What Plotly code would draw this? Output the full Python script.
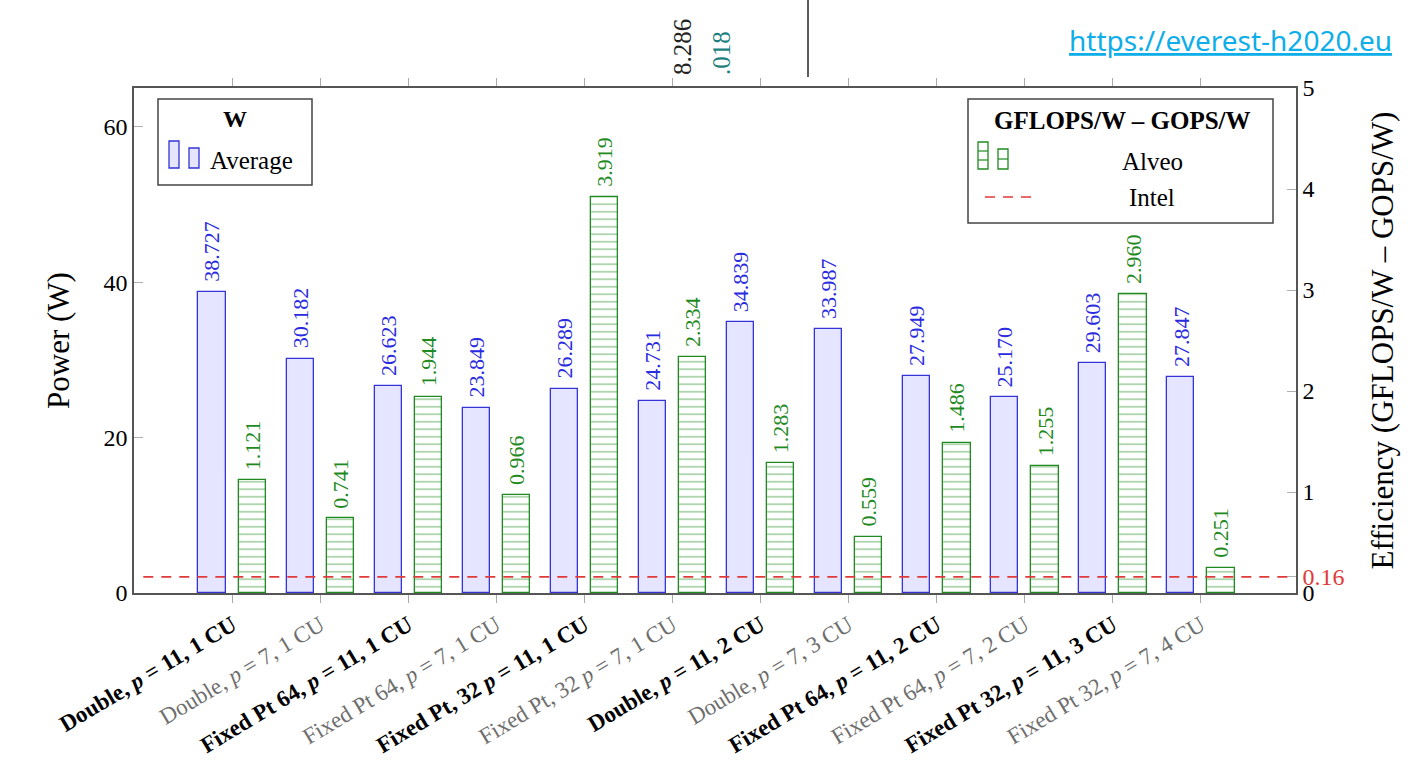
import plotly.graph_objects as go

# ---- data -------------------------------------------------------------
categories = [
    "Double, p = 11, 1 CU",
    "Double, p = 7, 1 CU",
    "Fixed Pt 64, p = 11, 1 CU",
    "Fixed Pt 64, p = 7, 1 CU",
    "Fixed Pt, 32 p = 11, 1 CU",
    "Fixed Pt, 32 p = 7, 1 CU",
    "Double, p = 11, 2 CU",
    "Double, p = 7, 3 CU",
    "Fixed Pt 64, p = 11, 2 CU",
    "Fixed Pt 64, p = 7, 2 CU",
    "Fixed Pt 32, p = 11, 3 CU",
    "Fixed Pt 32, p = 7, 4 CU",
]
power_avg = [38.727, 30.182, 26.623, 23.849, 26.289, 24.731,
             34.839, 33.987, 27.949, 25.170, 29.603, 27.847]
alveo_eff = [1.121, 0.741, 1.944, 0.966, 3.919, 2.334,
             1.283, 0.559, 1.486, 1.255, 2.960, 0.251]
intel_eff = 0.16

# ---- geometry of the plotting area (pixels) ---------------------------
W, H = 1416, 763
L, R, T, B = 134, 1296, 88, 593


def px_x(px):
    return (px - L) / (R - L)


def px_y(py):
    return (B - py) / (B - T)


SERIF = "Liberation Serif"
BLUE_EDGE = "#3434d8"
BLUE_FILL = "#e5e5ff"
BLUE_TEXT = "#2a2ae0"
GREEN = "#1f8a1f"
RED = "#e03a3a"

BAR_W = 0.31
GAP = 0.074
xs = list(range(len(categories)))


def tick_label(i, name):
    txt = name.replace("p =", "<i>p</i> =")
    if i % 2 == 0:
        return "<b>" + txt + "</b>"
    return "<span style='color:#6e6e6e'>" + txt + "</span>"


def paper_text(px, py, text, size, color="black", family=SERIF,
               xanchor="center", yanchor="middle", angle=0):
    return dict(x=px_x(px), y=px_y(py), xref="paper", yref="paper",
                text=text, showarrow=False, textangle=angle,
                xanchor=xanchor, yanchor=yanchor,
                font=dict(family=family, size=size, color=color))


fig = go.Figure()

fig.add_trace(go.Bar(
    x=xs, y=power_avg, name="Average",
    offset=-GAP - BAR_W, width=BAR_W,
    marker=dict(color=BLUE_FILL, line=dict(color=BLUE_EDGE, width=1.3)),
    yaxis="y", showlegend=False,
))
fig.add_trace(go.Bar(
    x=xs, y=alveo_eff, name="Alveo",
    offset=GAP, width=BAR_W,
    marker=dict(color="white", line=dict(color=GREEN, width=1.3),
                pattern=dict(shape="-", fgcolor=GREEN, bgcolor="white",
                             size=7.5, solidity=0.18)),
    yaxis="y2", showlegend=False,
))

# Intel reference efficiency
fig.add_shape(type="line", xref="paper", x0=0.008, x1=0.995,
              yref="y2", y0=intel_eff, y1=intel_eff,
              line=dict(color=RED, width=1.6, dash="10px,8px"))

annotations = []
# value labels above bars
for i, v in enumerate(power_avg):
    annotations.append(dict(
        x=i - GAP - BAR_W / 2, y=v, xref="x", yref="y",
        text=f"{v:.3f}", textangle=-90, showarrow=False,
        xanchor="center", yanchor="bottom", yshift=8,
        font=dict(family=SERIF, size=22, color=BLUE_TEXT)))
for i, v in enumerate(alveo_eff):
    annotations.append(dict(
        x=i + GAP + BAR_W / 2, y=v, xref="x", yref="y2",
        text=f"{v:.3f}", textangle=-90, showarrow=False,
        xanchor="center", yanchor="bottom", yshift=8,
        font=dict(family=SERIF, size=22, color=GREEN)))

# legend texts
annotations += [
    paper_text(235, 119, "<b>W</b>", 24),
    paper_text(208, 160, "Average", 25, xanchor="left"),
    paper_text(1122, 121, "<b>GFLOPS/W – GOPS/W</b>", 25),
    paper_text(1152, 161, "Alveo", 25),
    paper_text(1152, 197, "Intel", 25),
]

# web address and the strip above the chart
annotations += [
    paper_text(1394, 40, "<u>https://everest-h2020.eu</u>", 28,
               color="#10aee8", family="Noto Sans", xanchor="right"),
    paper_text(683, 77, "8.286", 25, color="#222222",
               yanchor="bottom", angle=-90),
    paper_text(722, 77, ".018", 25, color="#1e7f7f",
               yanchor="bottom", angle=-90),
]

shapes = [
    # legend frames
    dict(type="rect", xref="paper", yref="paper",
         x0=px_x(158), x1=px_x(312), y0=px_y(99), y1=px_y(185),
         line=dict(color="#444444", width=1.5), fillcolor="white", layer="above"),
    dict(type="rect", xref="paper", yref="paper",
         x0=px_x(968), x1=px_x(1273), y0=px_y(99), y1=px_y(223),
         line=dict(color="#444444", width=1.5), fillcolor="white", layer="above"),
    # average symbol
    dict(type="rect", xref="paper", yref="paper",
         x0=px_x(169), x1=px_x(179), y0=px_y(141), y1=px_y(168),
         line=dict(color=BLUE_EDGE, width=1.3), fillcolor=BLUE_FILL, layer="above"),
    dict(type="rect", xref="paper", yref="paper",
         x0=px_x(189), x1=px_x(199), y0=px_y(148), y1=px_y(168),
         line=dict(color=BLUE_EDGE, width=1.3), fillcolor=BLUE_FILL, layer="above"),
    # alveo symbol
    dict(type="rect", xref="paper", yref="paper",
         x0=px_x(978), x1=px_x(988), y0=px_y(142), y1=px_y(169),
         line=dict(color=GREEN, width=1.3), fillcolor="white", layer="above"),
    dict(type="line", xref="paper", yref="paper",
         x0=px_x(978), x1=px_x(988), y0=px_y(151), y1=px_y(151),
         line=dict(color=GREEN, width=1.2), layer="above"),
    dict(type="line", xref="paper", yref="paper",
         x0=px_x(978), x1=px_x(988), y0=px_y(160), y1=px_y(160),
         line=dict(color=GREEN, width=1.2), layer="above"),
    dict(type="rect", xref="paper", yref="paper",
         x0=px_x(998), x1=px_x(1008), y0=px_y(149), y1=px_y(169),
         line=dict(color=GREEN, width=1.3), fillcolor="white", layer="above"),
    dict(type="line", xref="paper", yref="paper",
         x0=px_x(998), x1=px_x(1008), y0=px_y(159), y1=px_y(159),
         line=dict(color=GREEN, width=1.2), layer="above"),
    # intel symbol
    dict(type="line", xref="paper", yref="paper",
         x0=px_x(985), x1=px_x(1034), y0=px_y(197), y1=px_y(197),
         line=dict(color=RED, width=1.6, dash="10px,8px"), layer="above"),
    # vertical rule in the top strip
    dict(type="line", xref="paper", yref="paper",
         x0=px_x(808), x1=px_x(808), y0=px_y(0), y1=px_y(77),
         line=dict(color="#333333", width=1.6)),
]
for s in shapes:
    fig.add_shape(**s)

fig.update_layout(
    width=W, height=H,
    margin=dict(l=L, r=W - R, t=T, b=H - B, pad=0, autoexpand=False),
    paper_bgcolor="white", plot_bgcolor="white",
    barmode="overlay", bargap=0,
    showlegend=False,
    annotations=annotations,
    font=dict(family=SERIF, color="black"),
    xaxis=dict(
        range=[-1.116, 12.08], automargin=False,
        tickmode="array", tickvals=xs,
        ticktext=[tick_label(i, c) for i, c in enumerate(categories)],
        tickangle=-31, tickfont=dict(family=SERIF, size=23, color="black"),
        ticks="outside", ticklen=8, tickcolor="#aaaaaa", tickwidth=1.3,
        showline=True, linecolor="#555555", linewidth=1.6, mirror="ticks",
        showgrid=False, zeroline=False,
    ),
    yaxis=dict(
        range=[0, 65], tickvals=[0, 20, 40, 60], automargin=False,
        ticks="inside", ticklen=9, tickcolor="#b0b0b0", tickwidth=1.3,
        tickfont=dict(family=SERIF, size=24, color="black"),
        showline=True, linecolor="#555555", linewidth=1.6,
        showgrid=False, zeroline=False,
        title=dict(text="Power (W)", standoff=25,
                   font=dict(family=SERIF, size=31, color="black")),
    ),
    yaxis2=dict(
        range=[0, 5], overlaying="y", side="right", automargin=False,
        tickmode="array", tickvals=[0, intel_eff, 1, 2, 3, 4, 5],
        ticktext=["0", f"<span style='color:{RED}'>{intel_eff:.2f}</span>",
                  "1", "2", "3", "4", "5"],
        ticks="inside", ticklen=9, tickcolor="#b0b0b0", tickwidth=1.3,
        tickfont=dict(family=SERIF, size=24, color="black"),
        showline=True, linecolor="#555555", linewidth=1.6,
        showgrid=False, zeroline=False,
        title=dict(text="Efficiency (GFLOPS/W – GOPS/W)", standoff=28,
                   font=dict(family=SERIF, size=31, color="black")),
    ),
)

fig.write_html("out.html")
